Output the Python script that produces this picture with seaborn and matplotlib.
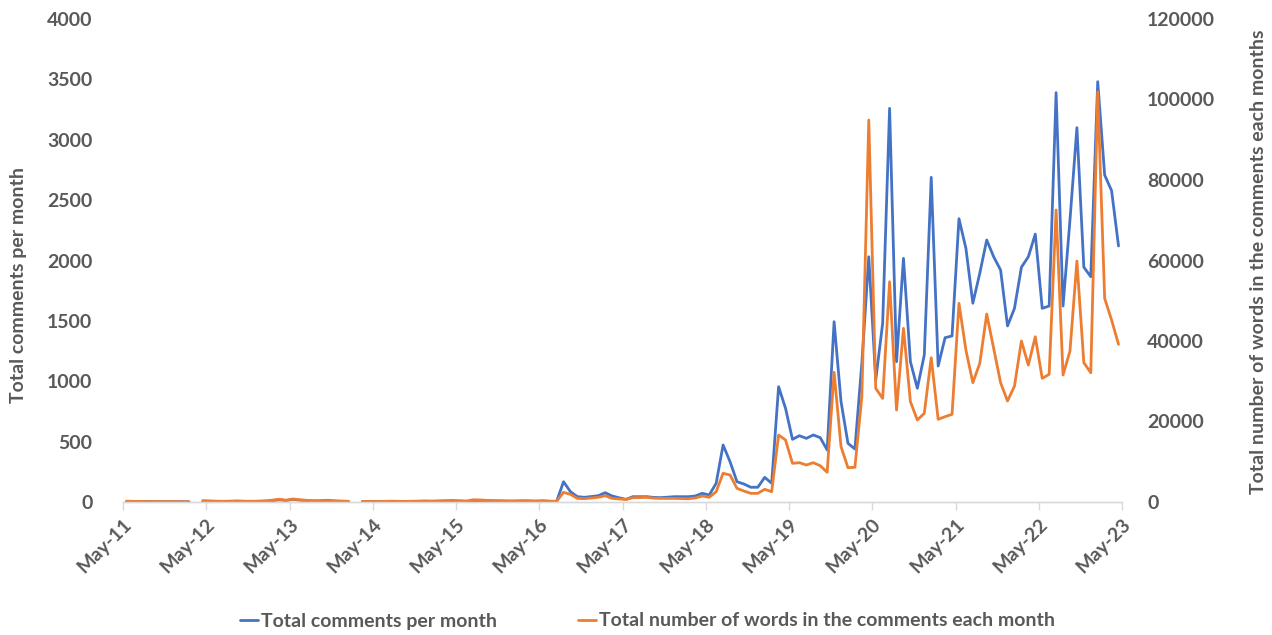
import numpy as np
import pandas as pd
import matplotlib
matplotlib.use("Agg")
import matplotlib.pyplot as plt
from matplotlib.lines import Line2D
import seaborn as sns

nan = np.nan
# Monthly series, May-2011 (index 0) .. Apr-2023 (index 143)
comments = [6, 5, 4, 4, 3, 3, 3, 2, 2, 2,
            nan,
            8, 6, 5, 4, 5, 6, 5, 4, 5, 6, 10, 18, 12, 22, 15, 12, 8, 10, 14, 8, 6, 5,
            nan,
            4, 3, 3, 4, 5, 4, 3, 4, 5, 6, 5, 6, 8, 9, 7, 5, 4, 3, 2, 2, 3, 4, 6, 8, 7, 6,
            8, 6, 5, 168, 85, 44, 39, 45, 52, 77, 50,
            35, 22, 44, 44, 44, 38, 36, 40, 44, 44, 44, 50, 72, 58,
            155, 472, 334, 168, 149, 122, 122, 204, 155, 955, 776,
            519, 549, 527, 555, 533, 431, 1493, 831, 486, 439, 1150, 2031,
            1010, 1480, 3260, 1162, 2018, 1162, 942, 1217, 2689, 1126, 1361, 1375,
            2346, 2101, 1646, 1894, 2170, 2031, 1921, 1458, 1604, 1944, 2031, 2219,
            1604, 1623, 3390, 1623, 2335, 3100, 1944, 1866, 3481, 2708, 2578, 2120]

words = [180, 150, 130, 120, 100, 100, 90, 80, 70, 60,
         nan,
         300, 250, 200, 180, 220, 260, 200, 180, 220, 280, 450, 700, 450, 750, 550, 420, 300, 280, 350, 260, 200, 180,
         nan,
         150, 120, 130, 160, 200, 180, 150, 180, 220, 260, 240, 280, 320, 380, 300, 250, 550, 500, 400, 380, 350, 300, 280, 320, 300, 250,
         300, 200, 150, 2400, 1900, 900, 820, 1000, 1170, 1560, 900,
         750, 640, 1070, 1100, 1170, 950, 900, 900, 900, 850, 800, 1000, 1490, 1170,
         2560, 7130, 6710, 3400, 2730, 2150, 2150, 3150, 2560, 16640, 15400,
         9610, 9770, 9190, 9770, 9020, 7380, 32220, 13740, 8520, 8620, 26160, 94890,
         28240, 25740, 54720, 22850, 43150, 24920, 20370, 22030, 35850, 20540, 21200, 21780,
         49360, 37760, 29640, 34450, 46700, 38180, 29640, 25090, 28810, 39990, 34030, 41060,
         30720, 31720, 72530, 31550, 37510, 59860, 34600, 32120, 101920, 50600, 45210, 39170]

tick_labels = ["May-11", "May-12", "May-13", "May-14", "May-15", "May-16", "May-17",
               "May-18", "May-19", "May-20", "May-21", "May-22", "May-23"]

label_comments = "Total comments per month"
label_words = "Total number of words in the comments each month"
ylabel_left = "Total comments per month"
ylabel_right = "Total number of words in the comments each months"

n = len(comments)
df = pd.DataFrame({"x": np.arange(n) + 0.5, "comments": comments, "words": words})
df["seg"] = df["comments"].isna().cumsum()

BLUE = "#4472C4"
ORANGE = "#ED7D31"
GRAY = "#595959"
LIGHT = "#D9D9D9"

sns.set_theme(style="white")
plt.rcParams["font.family"] = ["Lato", "DejaVu Sans"]
plt.rcParams["font.weight"] = "bold"

fig = plt.figure(figsize=(12.72, 6.35), dpi=100)
ax = fig.add_axes([123 / 1272, 1 - 502 / 635, (1122 - 123) / 1272, (502 - 19) / 635])
ax2 = ax.twinx()

sns.lineplot(data=df, x="x", y="comments", units="seg", estimator=None,
             color=BLUE, linewidth=2, ax=ax, legend=False)
sns.lineplot(data=df, x="x", y="words", units="seg", estimator=None,
             color=ORANGE, linewidth=2, ax=ax2, legend=False)

ax.set_xlim(0, 144)
ax.set_ylim(0, 4000)
ax2.set_ylim(0, 120000)
ax.set_xticks(np.arange(0, 145, 12))
ax.set_xticklabels(tick_labels, rotation=45, ha="right", rotation_mode="anchor",
                   fontsize=14, color=GRAY, fontweight="bold")
ax.set_yticks(np.arange(0, 4001, 500))
ax.set_yticklabels([str(v) for v in range(0, 4001, 500)], fontsize=14, color=GRAY, fontweight="bold")
ax2.set_yticks(np.arange(0, 120001, 20000))
ax2.set_yticklabels([str(v) for v in range(0, 120001, 20000)], fontsize=14, color=GRAY, fontweight="bold")

for a in (ax, ax2):
    a.set_xlabel("")
    a.set_ylabel("")
    for s in ("top", "left", "right"):
        a.spines[s].set_visible(False)
    a.spines["bottom"].set_color(LIGHT)
    a.spines["bottom"].set_linewidth(1)
    a.grid(False)

ax.tick_params(axis="x", which="major", length=6, width=1, color=LIGHT, pad=4, bottom=True)
ax.tick_params(axis="y", length=0, pad=22)
ax2.tick_params(axis="y", length=0, pad=18)

fig.text(19 / 1272, 1 - 285 / 635, ylabel_left, rotation=90, ha="center", va="center",
         fontsize=14, color=GRAY, fontweight="bold")
fig.text(1258 / 1272, 1 - 262 / 635, ylabel_right, rotation=90, ha="center", va="center",
         fontsize=14, color=GRAY, fontweight="bold")

handles = [Line2D([0], [0], color=BLUE, linewidth=2),
           Line2D([0], [0], color=ORANGE, linewidth=2)]
leg = fig.legend(handles, [label_comments, label_words], loc="center",
                 bbox_to_anchor=(0.509, 1 - 621 / 635), ncol=2, frameon=False,
                 handlelength=0.9, handletextpad=0.15, columnspacing=4.2,
                 prop={"size": 14, "weight": "bold"})
for t in leg.get_texts():
    t.set_color(GRAY)

fig.savefig("out.png", dpi=100)
